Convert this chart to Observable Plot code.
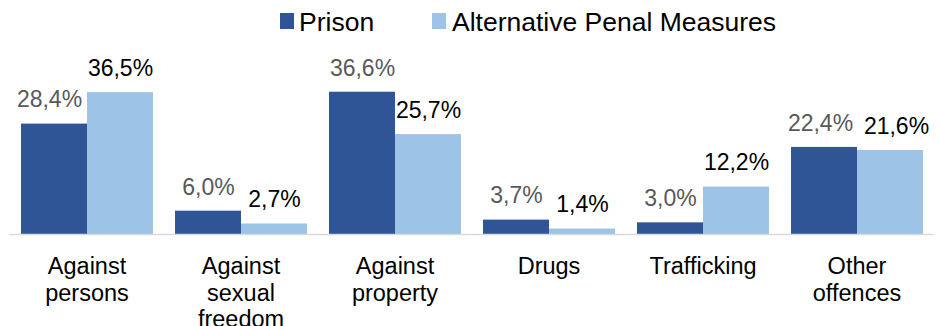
<!DOCTYPE html>
<html>
<head>
<meta charset="utf-8">
<script src="https://cdn.jsdelivr.net/npm/d3@7"></script>
<script src="https://cdn.jsdelivr.net/npm/@observablehq/plot@0.6"></script>
<style>
  body { margin: 0; background: #fff; font-family: "Liberation Sans", Arial, sans-serif; }
  #legend { position: relative; width: 940px; height: 44px; }
  .sw { position: absolute; top: 13px; width: 14px; height: 16px; }
  .lt { position: absolute; top: 7px; font-size: 26.5px; line-height: 30px; color: #000; white-space: nowrap; }
</style>
</head>
<body>
<div id="legend"></div>
<div id="chart"></div>
<script>
const categories = ["Against persons", "Against sexual freedom", "Against property", "Drugs", "Trafficking", "Other offences"];
const categoryLabels = ["Against\npersons", "Against\nsexual\nfreedom", "Against\nproperty", "Drugs", "Trafficking", "Other\noffences"];
const seriesNames = ["Prison", "Alternative Penal Measures"];
const prison = [28.4, 6.0, 36.6, 3.7, 3.0, 22.4];
const alternative = [36.5, 2.7, 25.7, 1.4, 12.2, 21.6];
const barColors = ["#2F5597", "#9DC3E6"];
const labelColors = ["#595959", "#000000"];

const data = [];
categories.forEach((c, i) => {
  data.push({category: c, series: seriesNames[0], value: prison[i]});
  data.push({category: c, series: seriesNames[1], value: alternative[i]});
});
const fmt = v => v.toFixed(1).replace(".", ",") + "%";

// Legend (HTML, above the SVG)
const legend = document.getElementById("legend");
const legendPos = [{sw: 280, tx: 299}, {sw: 432, tx: 452}];
seriesNames.forEach((s, i) => {
  const sw = document.createElement("div");
  sw.className = "sw";
  sw.style.left = legendPos[i].sw + "px";
  sw.style.background = barColors[i];
  legend.appendChild(sw);
  const t = document.createElement("div");
  t.className = "lt";
  t.style.left = legendPos[i].tx + "px";
  t.textContent = s;
  legend.appendChild(t);
});

// small label nudges (as the source chart avoids overlapping labels)
const nudge = (series, cat) => {
  if (cat === "Other offences") return series === seriesNames[0] ? -4 : 6;
  if (cat === "Against persons" && series === seriesNames[0]) return -5;
  return 0;
};

const font = "'Liberation Sans', Arial, sans-serif";
const chart = Plot.plot({
  width: 940,
  height: 282,
  marginLeft: 8,
  marginRight: 4,
  marginTop: 34.5,
  marginBottom: 92,
  style: {fontFamily: font, background: "#fff"},
  fx: {domain: categories, paddingInner: 0.134, paddingOuter: 0.067, axis: null, label: null},
  x: {domain: seriesNames, padding: 0, axis: null, label: null},
  y: {domain: [0, 40], axis: null, label: null},
  color: {domain: seriesNames, range: barColors},
  marks: [
    Plot.barY(data, {fx: "category", x: "series", y: "value", fill: "series"}),
    Plot.ruleY([0], {stroke: "#d9d9d9", strokeWidth: 1.5, insetLeft: -10.4, insetRight: -10.4}),
    ...seriesNames.flatMap((s, k) => categories.map(c => Plot.text(
      data.filter(d => d.series === s && d.category === c), {
        fx: "category", x: "series", y: "value", text: d => fmt(d.value),
        fill: labelColors[k], fontSize: 23, dy: -24, dx: nudge(s, c)
      }))),
    Plot.text(categories, {
      fx: d => d, text: d => categoryLabels[categories.indexOf(d)],
      frameAnchor: "bottom", lineAnchor: "top", dy: 21, lineHeight: 1.12,
      fontSize: 23.5, fill: "#000"
    })
  ]
});
document.getElementById("chart").appendChild(chart);
</script>
</body>
</html>
